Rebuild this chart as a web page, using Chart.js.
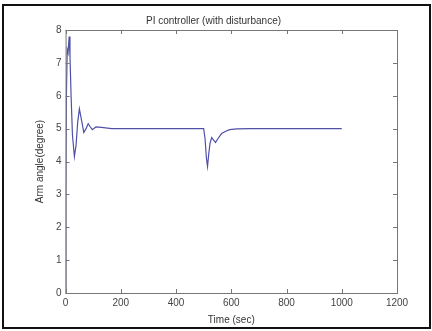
<!DOCTYPE html>
<html lang="en">
<head>
    <meta charset="UTF-8">
    <title>PI controller (with disturbance)</title>
    <script src="https://cdnjs.cloudflare.com/ajax/libs/Chart.js/4.4.0/chart.umd.min.js"></script>
    <style>
        body { margin: 0; background: #fff; }
        #wrap { width: 432px; height: 331px; }
    </style>
</head>
<body>
    <div id="wrap"><canvas id="graph" width="432" height="331"></canvas></div>

    <script>
        // time (sec) and arm angle (degree)
        const timeData = [0, 1, 3, 6, 9, 13, 16, 20, 25, 32, 38, 44, 50, 57, 66, 74, 82, 90, 97, 110, 130, 167, 200, 300, 400,
            500, 505, 510, 514, 518, 523, 529, 536, 543, 552, 565, 580, 594, 620, 667, 800, 1000];
        const angleData = [0, 3, 6, 7.4, 7.3, 7.8, 7.2, 6, 4.8, 4.15, 4.5, 5.2, 5.6, 5.3, 4.88, 5.0, 5.15, 5.05, 4.97, 5.05, 5.04, 5.0, 5.0, 5.0, 5.0,
            5.0, 4.7, 4.1, 3.85, 4.2, 4.55, 4.73, 4.65, 4.58, 4.7, 4.85, 4.92, 4.97, 4.99, 5.0, 5.0, 5.0];
        const xTicks = [0, 200, 400, 600, 800, 1000, 1200];
        const yTicks = [0, 1, 2, 3, 4, 5, 6, 7, 8];

        const points = timeData.map((t, i) => ({ x: t, y: angleData[i] }));

        // matlab style box: frame round the figure, box round the axes, ticks pointing inward
        const boxPlugin = {
            id: 'box',
            beforeDraw(chart) {
                const c = chart.ctx;
                c.save();
                c.fillStyle = '#fff';
                c.fillRect(0, 0, chart.width, chart.height);
                c.strokeStyle = '#111';
                c.lineWidth = 2;
                c.strokeRect(3, 5, 427, 323);
                c.restore();
            },
            afterDraw(chart) {
                const c = chart.ctx;
                const a = chart.chartArea;
                const xs = chart.scales.x, ys = chart.scales.y;
                c.save();
                c.strokeStyle = '#777';
                c.lineWidth = 1;
                c.strokeRect(a.left + 0.5, a.top + 0.5, a.right - a.left, a.bottom - a.top);
                c.beginPath();
                xs.ticks.forEach(t => {
                    const px = Math.round(xs.getPixelForValue(t.value)) + 0.5;
                    c.moveTo(px, a.bottom); c.lineTo(px, a.bottom - 4);
                    c.moveTo(px, a.top); c.lineTo(px, a.top + 4);
                });
                ys.ticks.forEach(t => {
                    const py = Math.round(ys.getPixelForValue(t.value)) + 0.5;
                    c.moveTo(a.left, py); c.lineTo(a.left + 4, py);
                    c.moveTo(a.right, py); c.lineTo(a.right - 4, py);
                });
                c.stroke();
                c.restore();
            }
        };

        const tickFont = { family: 'Liberation Sans, Arial', size: 10 };

        new Chart(document.getElementById('graph').getContext('2d'), {
            type: 'scatter',
            data: {
                datasets: [{
                    data: points,
                    showLine: true,
                    borderColor: '#5050a8',
                    borderWidth: 1.2,
                    pointRadius: 0,
                    tension: 0
                }]
            },
            options: {
                responsive: false,
                animation: false,
                layout: { padding: { left: 30, right: 35, top: 7, bottom: 1 } },
                plugins: {
                    legend: { display: false },
                    tooltip: { enabled: false },
                    title: {
                        display: true,
                        text: 'PI controller (with disturbance)',
                        color: '#333',
                        font: { family: 'Liberation Sans, Arial', size: 10, weight: 'normal' },
                        padding: { top: 8, bottom: 3 }
                    }
                },
                scales: {
                    x: {
                        type: 'linear',
                        min: 0,
                        max: 1200,
                        afterBuildTicks: s => { s.ticks = xTicks.map(v => ({ value: v })); },
                        grid: { display: false, drawTicks: false },
                        border: { display: false },
                        ticks: { color: '#444', font: tickFont, padding: 4, maxRotation: 0, callback: v => String(v) },
                        title: { display: true, text: 'Time (sec)', color: '#333', font: tickFont, padding: { top: 1 } }
                    },
                    y: {
                        min: 0,
                        max: 8,
                        afterBuildTicks: s => { s.ticks = yTicks.map(v => ({ value: v })); },
                        grid: { display: false, drawTicks: false },
                        border: { display: false },
                        ticks: { color: '#444', font: tickFont, padding: 4 },
                        title: { display: true, text: 'Arm angle(degree)', color: '#333', font: tickFont, padding: { bottom: 6 } }
                    }
                }
            },
            plugins: [boxPlugin]
        });
    </script>
</body>
</html>
